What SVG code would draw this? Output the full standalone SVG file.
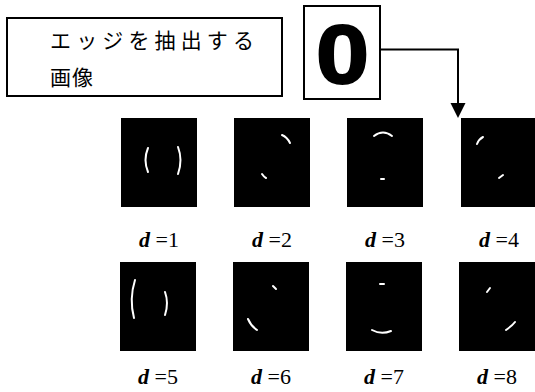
<svg xmlns="http://www.w3.org/2000/svg" width="535" height="392" viewBox="0 0 535 392">
<style>
.box{fill:#fff;stroke:#000;stroke-width:2}
.jp{font-family:"Noto Sans CJK JP","Noto Sans CJK SC",sans-serif;font-size:21px;fill:#000}
.panel{fill:#000}
.edge{fill:none;stroke:#fff;stroke-width:2;stroke-linecap:round}
.lbl{font-size:22px;fill:#000;text-anchor:middle}
.v{font-style:italic;font-weight:bold}
.conn{fill:none;stroke:#000;stroke-width:2}
</style>
<rect width="535" height="392" fill="#fff"/>

<g id="source-label">
<rect class="box" x="7" y="18" width="275" height="78"/>
<text class="jp" x="50" y="48" textLength="204" lengthAdjust="spacing">エッジを抽出する</text>
<text class="jp" x="50" y="85" letter-spacing="1">画像</text>
</g>

<g id="source-image">
<rect class="box" x="304" y="6" width="76" height="93"/>
<text transform="translate(342.5,83) scale(1.15,1)" text-anchor="middle" font-family="Liberation Sans, Arial, sans-serif" font-weight="bold" font-size="83" fill="#000" stroke="#000" stroke-width="2">0</text>
</g>

<g id="connectors">
<path class="conn" d="M380,49.5 H458 V104"/>
<path d="M450.5,103 L465.5,103 L458,118 Z" fill="#000"/>
</g>

<g id="d1">
<rect class="panel" x="121" y="118" width="76" height="89"/>
<path class="edge" d="M148,148 Q143,160 148,172"/>
<path class="edge" d="M178,147 Q183,160 178,174"/>
<text class="lbl" font-family="Liberation Serif, Times New Roman, serif" x="159" y="247"><tspan class="v">d</tspan> =1</text>
</g>

<g id="d2">
<rect class="panel" x="234" y="118" width="76" height="89"/>
<path class="edge" d="M282,135 Q287,137 290,143"/>
<path class="edge" d="M262,174 Q264,177 266,178"/>
<text class="lbl" font-family="Liberation Serif, Times New Roman, serif" x="272" y="247"><tspan class="v">d</tspan> =2</text>
</g>

<g id="d3">
<rect class="panel" x="347" y="118" width="76" height="89"/>
<path class="edge" d="M374,136 Q383,129 392,136"/>
<path class="edge" d="M381,179 L384,179"/>
<text class="lbl" font-family="Liberation Serif, Times New Roman, serif" x="385" y="247"><tspan class="v">d</tspan> =3</text>
</g>

<g id="d4">
<rect class="panel" x="461" y="118" width="76" height="89"/>
<path class="edge" d="M477,144 Q479,139 483,137"/>
<path class="edge" d="M499,178 L503,175"/>
<text class="lbl" font-family="Liberation Serif, Times New Roman, serif" x="499" y="247"><tspan class="v">d</tspan> =4</text>
</g>

<g id="d5">
<rect class="panel" x="120" y="262" width="76" height="89"/>
<path class="edge" d="M135,280 Q129,299 134,318"/>
<path class="edge" d="M165,292 Q169,303 165,315"/>
<text class="lbl" font-family="Liberation Serif, Times New Roman, serif" x="158" y="384"><tspan class="v">d</tspan> =5</text>
</g>

<g id="d6">
<rect class="panel" x="233" y="262" width="76" height="89"/>
<path class="edge" d="M273,286 L276,289"/>
<path class="edge" d="M248,319 Q251,326 257,330"/>
<text class="lbl" font-family="Liberation Serif, Times New Roman, serif" x="271" y="384"><tspan class="v">d</tspan> =6</text>
</g>

<g id="d7">
<rect class="panel" x="346" y="262" width="76" height="89"/>
<path class="edge" d="M380,284 L384,284"/>
<path class="edge" d="M372,330 Q381,335 391,331"/>
<text class="lbl" font-family="Liberation Serif, Times New Roman, serif" x="384" y="384"><tspan class="v">d</tspan> =7</text>
</g>

<g id="d8">
<rect class="panel" x="459" y="262" width="76" height="89"/>
<path class="edge" d="M487,292 L490,288"/>
<path class="edge" d="M506,330 Q512,326 515,322"/>
<text class="lbl" font-family="Liberation Serif, Times New Roman, serif" x="497" y="384"><tspan class="v">d</tspan> =8</text>
</g>
</svg>
